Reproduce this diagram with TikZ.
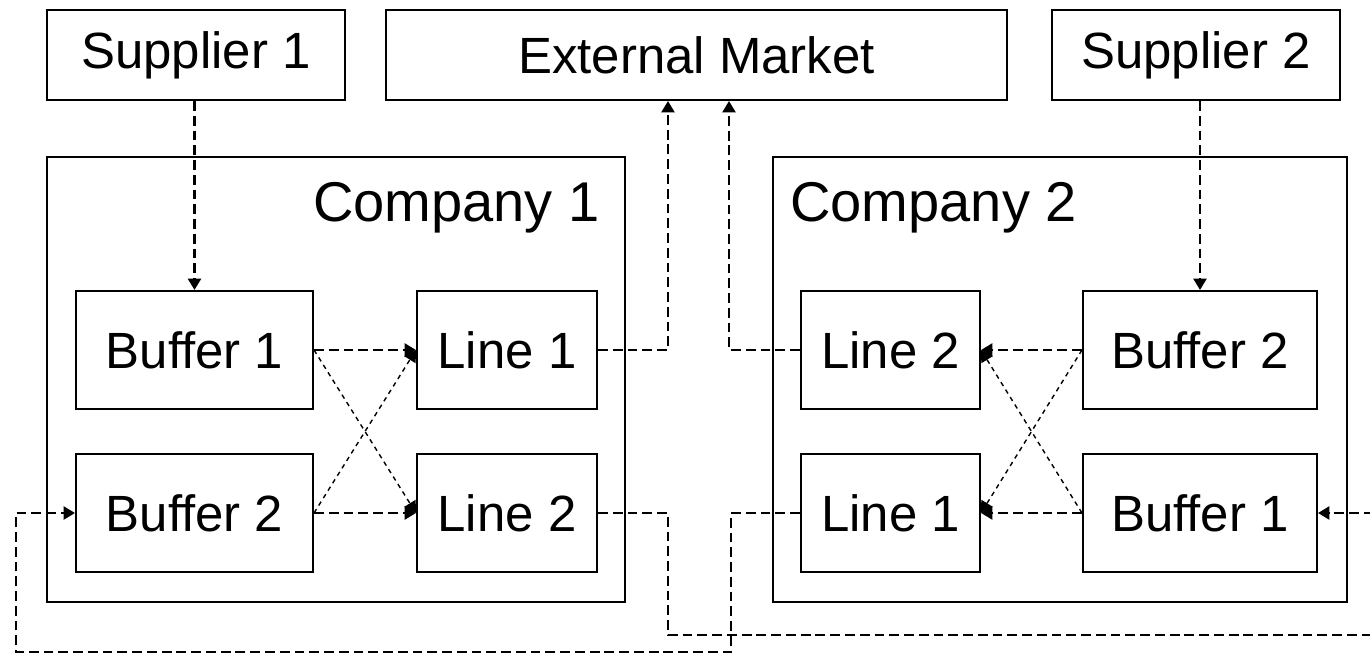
\documentclass[tikz,border=0pt]{standalone}
\usepackage{fontspec}
\setmainfont{Liberation Sans}
\usetikzlibrary{arrows.meta}
\begin{document}
\begin{tikzpicture}[x=0.02cm,y=-0.02cm,
  box/.style={draw,line width=1.2pt,inner sep=0pt,font=\fontsize{29}{32}\selectfont},
  comp/.style={draw,line width=1.2pt,inner sep=0pt},
  clabel/.style={inner sep=0pt,font=\fontsize{31.9}{34}\selectfont},
  flow/.style={line width=1.3pt,dash pattern=on 5.6pt off 2.8pt,-{Triangle[length=6.5pt,width=7.5pt]}},
  cross/.style={line width=0.8pt,dash pattern=on 2.6pt off 2.4pt,-{Triangle[length=6.5pt,width=7.5pt]}}]
\useasboundingbox (0,0) rectangle (1370,655);
% top boxes
\node[box,minimum width=5.96cm,minimum height=1.8cm] (S1) at (196,55) {Supplier 1};
\node[box,minimum width=12.42cm,minimum height=1.8cm] (EM) at (696.5,55) {External Market};
\node[box,minimum width=5.76cm,minimum height=1.8cm] (S2) at (1196,55) {Supplier 2};
% companies
\node[comp,minimum width=11.56cm,minimum height=8.9cm] (C1) at (336,379.5) {};
\node[comp,minimum width=11.48cm,minimum height=8.9cm] (C2) at (1060,379.5) {};
\node[clabel,anchor=base east] (C1l) at (600,222) {Company 1};
\node[clabel,anchor=base west] (C2l) at (790,222) {Company 2};
% company 1 inner
\node[box,minimum width=4.74cm,minimum height=2.36cm] (B1a) at (194.5,350) {Buffer 1};
\node[box,minimum width=4.74cm,minimum height=2.36cm] (B2a) at (194.5,513) {Buffer 2};
\node[box,minimum width=3.6cm,minimum height=2.36cm] (L1a) at (507,350) {Line 1};
\node[box,minimum width=3.6cm,minimum height=2.36cm] (L2a) at (507,513) {Line 2};
% company 2 inner
\node[box,minimum width=3.58cm,minimum height=2.36cm] (L2b) at (890.5,350) {Line 2};
\node[box,minimum width=3.58cm,minimum height=2.36cm] (L1b) at (890.5,513) {Line 1};
\node[box,minimum width=4.68cm,minimum height=2.36cm] (B2b) at (1200,350) {Buffer 2};
\node[box,minimum width=4.68cm,minimum height=2.36cm] (B1b) at (1200,513) {Buffer 1};
% suppliers
\draw[flow] (B1a.north |- S1.south) -- (B1a.north);
\draw[flow] (B2b.north |- S2.south) -- (B2b.north);
% cross flows company 1
\draw[flow] (B1a.east) -- (L1a.west);
\draw[flow] (B2a.east) -- (L2a.west);
\draw[cross] (B1a.east) -- (L2a.west);
\draw[cross] (B2a.east) -- (L1a.west);
% cross flows company 2
\draw[flow] (B2b.west) -- (L2b.east);
\draw[flow] (B1b.west) -- (L1b.east);
\draw[cross] (B2b.west) -- (L1b.east);
\draw[cross] (B1b.west) -- (L2b.east);
% to external market
\coordinate (m1) at (668,100);
\coordinate (m2) at (729,100);
\draw[flow] (L1a.east) -| (m1 |- EM.south);
\draw[flow] (L2b.west) -| (m2 |- EM.south);
% loops
\coordinate (a1) at (668,635);
\coordinate (a2) at (1395,635);
\coordinate (a3) at (1395,513);
\draw[flow] (L2a.east) -| (a1) -- (a2) -- (a3) -- (B1b.east);
\coordinate (b1) at (731,652);
\coordinate (b2) at (16,652);
\coordinate (b3) at (16,513);
\draw[flow] (L1b.west) -| (b1) -- (b2) -- (b3) -- (B2a.west);
\end{tikzpicture}
\end{document}
